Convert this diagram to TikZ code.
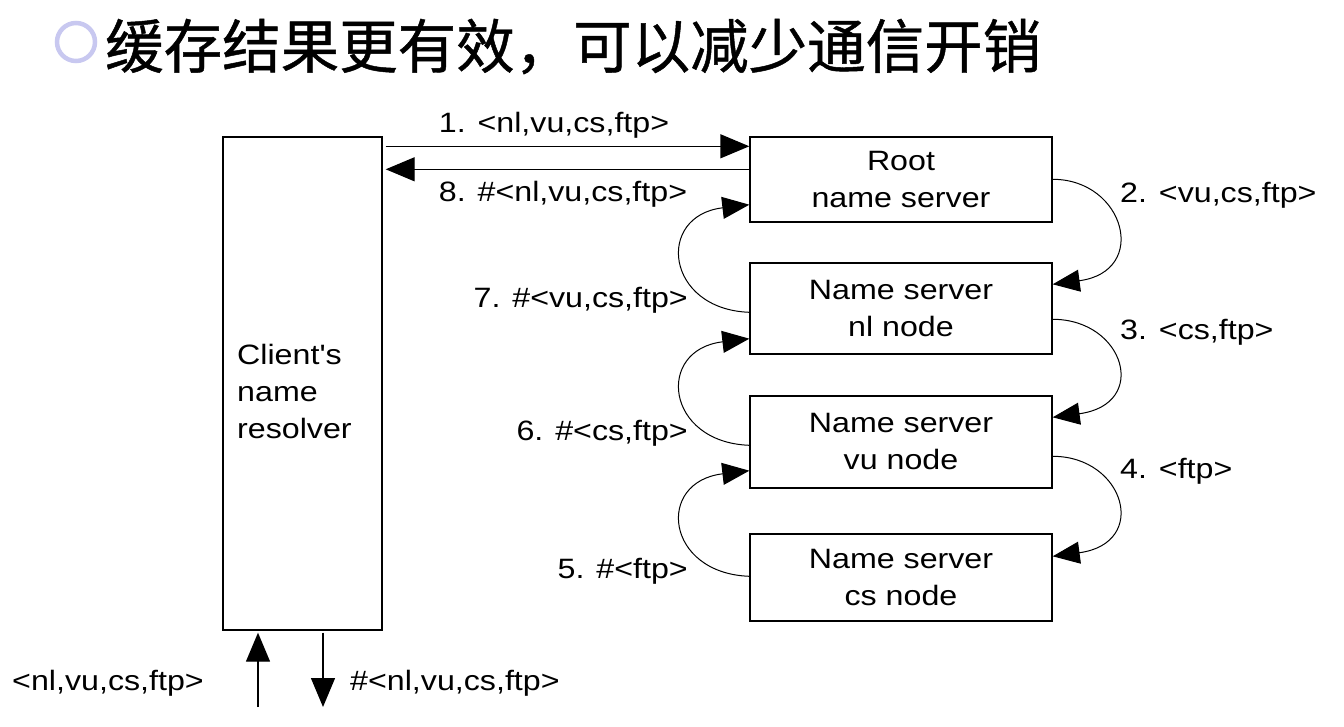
\documentclass[tikz,border=0pt]{standalone}
\usepackage{fontspec}
\setmainfont{Liberation Sans}[FakeStretch=1.15]
\newfontfamily\aposfont{Liberation Sans}[FakeStretch=1.15]
\newfontfamily\cjk{Noto Sans CJK SC}[FakeBold=0.8]
\usetikzlibrary{arrows.meta}
\definecolor{bullet}{RGB}{200,200,240}
\tikzset{
  box/.style={draw=black, line width=1.4pt, minimum width=302pt, minimum height=88pt, align=center, inner sep=0pt, font=\fontsize{28}{37}\selectfont},
  lbl/.style={inner sep=0pt, font=\fontsize{28}{37}\selectfont},
  arr/.style={line width=1.4pt, -{Triangle[length=29pt,width=24pt]}},
  carr/.style={line width=1pt, -{Triangle[length=27pt,width=22pt]}},
}
\begin{document}
\begin{tikzpicture}[x=1pt,y=-1pt]
\useasboundingbox (0,0) rectangle (1344,727);
% title
\draw[bullet, line width=4.5pt] (76,42) circle (19);
\node[anchor=base west, inner sep=0pt, font=\cjk\fontsize{58.5}{60}\selectfont] (title) at (105,68) {缓存结果更有效，可以减少通信开销};
% boxes
\node[draw=black, line width=1.4pt, minimum width=159pt, minimum height=493pt, inner sep=0pt] (client) at (302.5,383.5) {};
\node[lbl, anchor=west, align=left] (clienttxt) at (237,391) {Client{\aposfont'}s\\name\\resolver};
\node[box, minimum height=85pt] (root) at (901,179.5) {Root\\name server};
\node[box, minimum height=91pt] (nl) at (901,308.5) {Name server\\nl node};
\node[box, minimum height=92pt] (vu) at (901,442) {Name server\\vu node};
\node[box, minimum height=87pt] (cs) at (901,577.5) {Name server\\cs node};
% horizontal arrows
\draw[arr] ([xshift=3pt,yshift=-10pt]client.north east) -- ([yshift=-10pt]root.north west);
\draw[arr] ([yshift=-33pt]root.north west) -- ([xshift=3pt,yshift=-33pt]client.north east);
\node[lbl, anchor=base] (l1) at (554,133) {1. <nl,vu,cs,ftp>};
\node[lbl, anchor=base] (l8) at (563,202) {8. \#<nl,vu,cs,ftp>};
% right curves
\draw[carr] ([yshift=-43pt]root.north east) .. controls +(72,0) and +(97,-13) .. ([yshift=-22pt]nl.north east);
\draw[carr] ([yshift=-57pt]nl.north east) .. controls +(72,0) and +(97,-13) .. ([yshift=-22pt]vu.north east);
\draw[carr] ([yshift=-61pt]vu.north east) .. controls +(72,0) and +(97,-13) .. ([yshift=-23pt]cs.north east);
% left curves
\draw[carr] ([yshift=-50pt]nl.north west) .. controls +(-84,-3) and +(-94,11) .. ([yshift=18pt]root.south west);
\draw[carr] ([yshift=-50pt]vu.north west) .. controls +(-84,-3) and +(-94,11) .. ([yshift=16pt]nl.south west);
\draw[carr] ([yshift=-43pt]cs.north west) .. controls +(-84,-3) and +(-94,11) .. ([yshift=18pt]vu.south west);
% curve labels
\node[lbl, anchor=base west] (l2) at (1120,203) {2. <vu,cs,ftp>};
\node[lbl, anchor=base west] (l3) at (1120,340) {3. <cs,ftp>};
\node[lbl, anchor=base west] (l4) at (1120,478) {4. <ftp>};
\node[lbl, anchor=base east] (l7) at (688,308) {7. \#<vu,cs,ftp>};
\node[lbl, anchor=base east] (l6) at (688,440) {6. \#<cs,ftp>};
\node[lbl, anchor=base east] (l5) at (688,578) {5. \#<ftp>};
% bottom arrows
\coordinate (inp) at (258,707);
\coordinate (outp) at (323,707);
\draw[arr] (inp) -- ([yshift=-2pt]inp |- client.south);
\draw[arr] ([yshift=-2pt]outp |- client.south) -- (outp);
\node[lbl, anchor=base] (lin) at (108,690) {<nl,vu,cs,ftp>};
\node[lbl, anchor=base west] (lout) at (350,690) {\#<nl,vu,cs,ftp>};
\end{tikzpicture}
\end{document}
